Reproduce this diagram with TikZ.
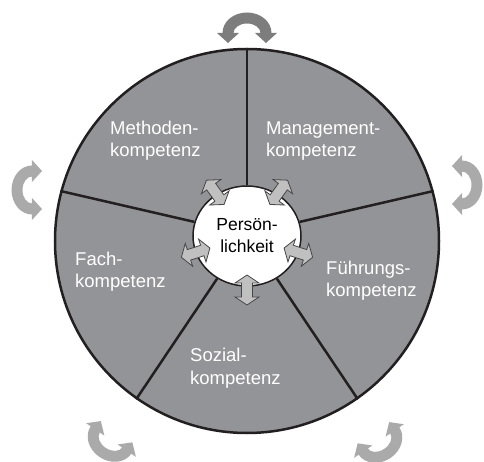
\documentclass[tikz,border=0pt]{standalone}
\usepackage{fontspec}
\setmainfont{Liberation Sans}
\usepackage{xcolor}
\usepackage{tikz}
\usetikzlibrary{positioning, shapes.geometric, calc}

\definecolor{wheel}{RGB}{147,148,152}
\definecolor{rim}{RGB}{35,31,32}
\definecolor{turn}{RGB}{170,170,170}
\definecolor{turndark}{RGB}{125,125,125}
\definecolor{push}{RGB}{192,192,192}
\definecolor{pushedge}{RGB}{70,70,70}

\tikzset{
  % small double-headed arrow on the rim of the core
  twoway/.pic={
    \filldraw[fill=push, draw=pushedge, line width=0.8pt]
      (-15,0) -- (-7,12) -- (-7,5.5) -- (7,5.5) -- (7,12) -- (15,0)
      -- (7,-12) -- (7,-5.5) -- (-7,-5.5) -- (-7,-12) -- cycle;
  },
  % round arrow outside the wheel, opening towards -y
  turnaround/.pic={
    \fill (-24.5,0) arc[start angle=180, end angle=0, x radius=24.5, y radius=20.5]
      -- (30,0) -- (19,-10) -- (8,0) -- (13.5,0)
      arc[start angle=0, end angle=180, x radius=13.5, y radius=9.5]
      -- (-8,0) -- (-19,-10) -- (-30,0) -- cycle;
  }
}

\begin{document}
\begin{tikzpicture}[x=1pt, y=1pt,
    sectortext/.style={text=white, align=left, anchor=base west, inner sep=0pt,
      font=\fontsize{18.5}{22}\selectfont},
    divider/.style={draw=rim, line width=2.5pt}]
  \useasboundingbox (-247,-221) rectangle (237,241);
  \clip (-247,-221) rectangle (237,241);

  \node[draw=rim, circle, line width=2.5pt, fill=wheel, minimum size=384pt, inner sep=0pt] (Wheel) at (0,0) {};
  \node[draw=rim, ellipse, line width=1.5pt, fill=white, minimum width=108pt, minimum height=100pt,
    inner sep=0pt, align=center, font=\fontsize{17.5}{22}\selectfont] (Core) at (0,5) {Persön-\\lichkeit};
  \foreach \a in {90,15,165,235,305}
    \draw[divider] (Core.\a) -- (Wheel.\a);

  % sector labels (base = last line)
  \node[sectortext] (Method) at (-137,84) {Methoden-\\kompetenz};
  \node[sectortext] (Management) at (19,84) {Management-\\kompetenz};
  \node[sectortext] (Leadership) at (79,-56) {Führungs-\\kompetenz};
  \node[sectortext] (Social) at (-57,-143) {Sozial-\\kompetenz};
  \node[sectortext] (Subject) at (-172,-47) {Fach-\\kompetenz};

  \foreach \a in {126,54,-18,-90,198}
    \pic[rotate=\a] at ($(Core.center)+(\a:54)$) {twoway};

  \pic[color=turndark] at (0,208) {turnaround};
  \pic[rotate=90, color=turn] at (-215,51) {turnaround};
  \pic[rotate=-90, color=turn] at (215,56) {turnaround};
  \pic[rotate=146, color=turn] at (-136,-199) {turnaround};
  \pic[rotate=-146, color=turn] at (132,-200) {turnaround};
\end{tikzpicture}
\end{document}
